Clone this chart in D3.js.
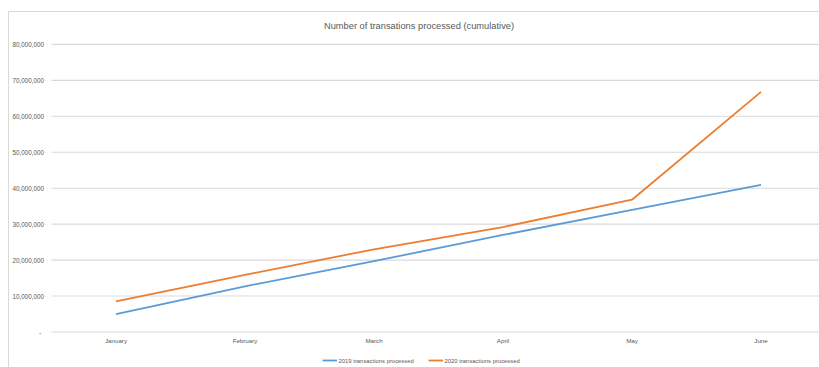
<!DOCTYPE html>
<html>
<head>
<meta charset="utf-8">
<script src="https://cdn.jsdelivr.net/npm/d3@7"></script>
<style>
  html, body { margin: 0; padding: 0; background: #fff; }
  svg { display: block; font-family: "Liberation Sans", Arial, sans-serif; }
</style>
</head>
<body>
<svg id="chart" width="819" height="367"></svg>
<script>
// Monthly cumulative transaction counts
const months = ["January", "February", "March", "April", "May", "June"];
const series2019 = [5000000, 12700000, 19700000, 27000000, 34000000, 40900000];
const series2020 = [8500000, 15900000, 23000000, 29200000, 36800000, 66800000];
const seriesNames = ["2019 transactions processed", "2020 transactions processed"];
const seriesColors = ["#5B9BD5", "#ED7D31"];
const yTicks = [0, 10000000, 20000000, 30000000, 40000000, 50000000, 60000000, 70000000, 80000000];
const chartTitle = "Number of transations processed (cumulative)";

const svg = d3.select("#chart");
const W = 819, H = 367;

// Chart-area frame (left and top edges visible)
svg.append("line").attr("x1", 8.5).attr("x2", 8.5).attr("y1", 11.5).attr("y2", H)
  .attr("stroke", "#d9d9d9").attr("stroke-width", 1);
svg.append("line").attr("x1", 8.5).attr("x2", W).attr("y1", 11.5).attr("y2", 11.5)
  .attr("stroke", "#d9d9d9").attr("stroke-width", 1);

const plotLeft = 51.5, plotRight = 825.5;
const x = d3.scaleBand().domain(months).range([plotLeft, plotRight]);
const y = d3.scaleLinear().domain([0, 80000000]).range([332, 44.4]);

// Title
svg.append("text")
  .attr("x", 419).attr("y", 29)
  .attr("text-anchor", "middle")
  .attr("fill", "#595959")
  .style("font-size", "9.3px")
  .text(chartTitle);

// Horizontal gridlines
svg.append("g").selectAll("line").data(yTicks).join("line")
  .attr("x1", plotLeft).attr("x2", W)
  .attr("y1", d => y(d)).attr("y2", d => y(d))
  .attr("stroke", "#d9d9d9").attr("stroke-width", 1.1);

// Y-axis labels
const fmt = d3.format(",");
const yAxis = d3.axisLeft(y).tickValues(yTicks).tickSize(0).tickPadding(0)
  .tickFormat(d => d === 0 ? "-" : fmt(d));
const yg = svg.append("g").attr("transform", `translate(44,0)`).call(yAxis);
yg.select(".domain").remove();
yg.selectAll("text").attr("fill", "#595959").style("font-size", "6.3px")
  .style("font-family", "'Liberation Sans', Arial, sans-serif");
yg.selectAll(".tick").filter(d => d === 0).select("text").attr("dx", -3);

// X-axis labels
const xAxis = d3.axisBottom(x).tickSize(0).tickPadding(0);
const xg = svg.append("g").attr("transform", `translate(0,339)`).call(xAxis);
xg.select(".domain").remove();
xg.selectAll("text").attr("fill", "#595959").style("font-size", "6.2px")
  .style("font-family", "'Liberation Sans', Arial, sans-serif");

// Lines
const line = d3.line()
  .x((d, i) => x(months[i]) + x.bandwidth() / 2)
  .y(d => y(d));
[series2019, series2020].forEach((s, k) => {
  svg.append("path")
    .datum(s)
    .attr("fill", "none")
    .attr("stroke", seriesColors[k])
    .attr("stroke-width", 1.8)
    .attr("stroke-linejoin", "round")
    .attr("d", line);
});

// Legend
const legendItems = [
  { name: seriesNames[0], color: seriesColors[0], x0: 322.5 },
  { name: seriesNames[1], color: seriesColors[1], x0: 428.5 }
];
const lg = svg.append("g");
legendItems.forEach(it => {
  lg.append("line").attr("x1", it.x0).attr("x2", it.x0 + 14.5)
    .attr("y1", 360.5).attr("y2", 360.5)
    .attr("stroke", it.color).attr("stroke-width", 1.8);
  lg.append("text").attr("x", it.x0 + 16).attr("y", 362.8)
    .attr("fill", "#595959").style("font-size", "5.9px")
    .text(it.name);
});
</script>
</body>
</html>
